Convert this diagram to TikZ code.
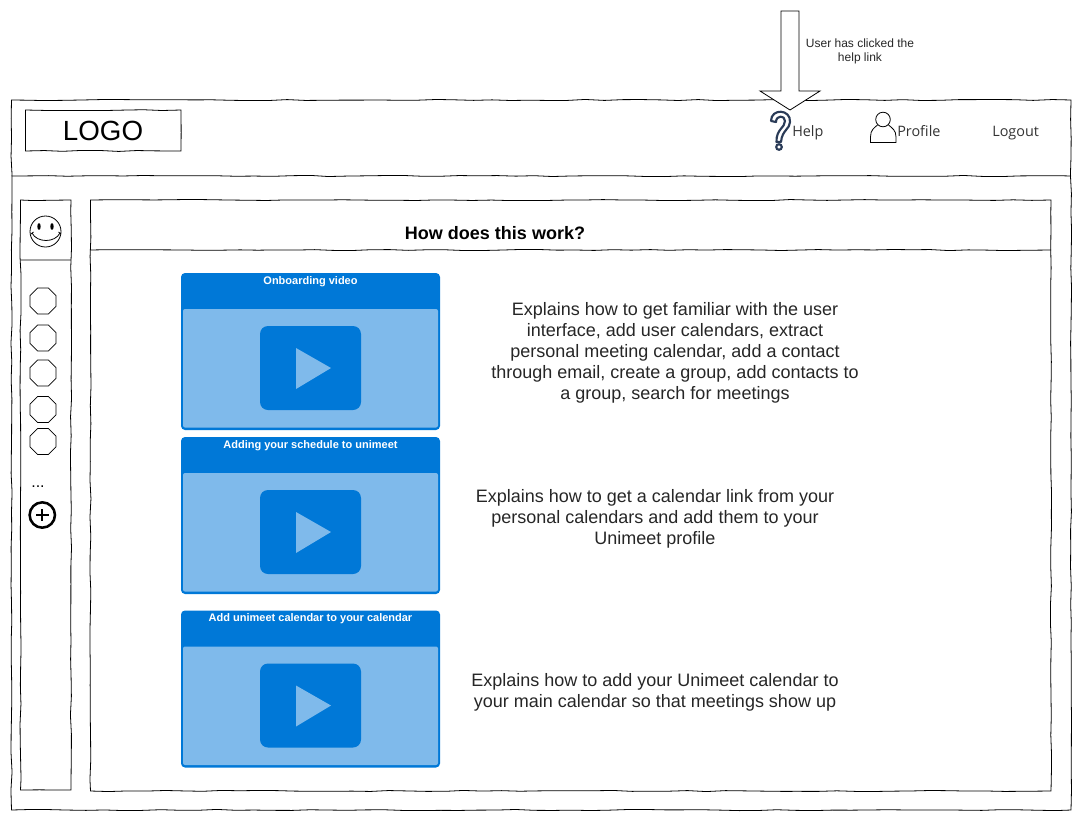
\documentclass[tikz,border=0pt]{standalone}
\usepackage{fontspec}
\setmainfont{Liberation Sans}
\newfontfamily\menufont{Open Sans}
\usetikzlibrary{decorations.pathmorphing,shapes.geometric}
\definecolor{videoblue}{HTML}{0078D7}
\definecolor{videolight}{HTML}{7FBAEB}
\definecolor{helpnavy}{HTML}{2A3B57}
\tikzset{
  sketch/.style = {draw=black, line width=0.6pt,
    decorate, decoration={random steps, segment length=14pt, amplitude=0.45pt}},
  menulabel/.style = {font=\menufont\fontsize{10.8}{12}\selectfont, text=black!80, inner sep=0pt},
  bodytext/.style = {font=\fontsize{13.5}{15.7}\selectfont, text=black!85, align=center, inner sep=0pt},
  videotitle/.style = {font=\bfseries\fontsize{8.25}{11}\selectfont, text=white, inner sep=0pt},
  slotbox/.style = {draw, regular polygon, regular polygon sides=8, minimum size=21.1pt,
    inner sep=0pt, line width=0.6pt},
}
% one video card, #1 = top edge, #2 = title
\newcommand{\videocard}[3]{
  \fill[videoblue, rounded corners=3pt] (181,#1) rectangle (440,#1+157);
  \fill[videolight, rounded corners=1.5pt] (183,#1+36) rectangle (438,#1+154.5);
  \fill[videoblue, rounded corners=6pt] (260,#1+53) rectangle (361,#1+137);
  \fill[videolight] (296,#1+75) -- (331,#1+95) -- (296,#1+116) -- cycle;
  \node[videotitle] (#3) at (310.5,#1+8.5) {#2};
}
\begin{document}
\begin{tikzpicture}[x=0.75pt, y=-0.75pt]
\pgfmathsetseed{42}
\useasboundingbox (0,0) rectangle (1082,829);

% outer frame
\draw[sketch] (11.5,100) rectangle (1071,810);
\draw[sketch] (11.5,176) -- (1071,176);
\draw[sketch] (25.5,110) rectangle (181,151);
\node[font=\fontsize{20.8}{24}\selectfont, inner sep=0pt] (logo) at (103,131) {LOGO};

% side bar
\draw[sketch] (20.5,200) rectangle (71,790);
\draw[sketch] (20.5,260) -- (71,260);
\draw[line width=0.6pt] (45.5,231.5) circle[radius=15.5];
\fill (39,226.5) ellipse[x radius=1.7, y radius=3.4];
\fill (52,226.5) ellipse[x radius=1.7, y radius=3.4];
\draw[line width=0.6pt] (32,233) .. controls (37,243) and (55,243) .. (60,233);
\draw[line width=0.6pt] (31,234) -- (33.5,232) (61,234) -- (58.5,232);
\foreach \slot/\ypos in {a/301,b/338,c/373,d/409.5,e/441.5}
  \node[slotbox] (slot\slot) at (43,\ypos) {};
\node[font=\fontsize{12}{14}\selectfont, inner sep=0pt] (dots) at (38,487) {...};
\node[circle, draw, line width=1.9pt, minimum size=19pt, inner sep=0pt] (addslot) at (42.3,515) {};
\draw[line width=1.7pt] (36,515) -- (48.6,515) (42.3,509) -- (42.3,521);

% main panel
\draw[sketch] (90.5,200) rectangle (1051,791);
\draw[sketch] (90.5,250) -- (1051,250);
\node[font=\bfseries\fontsize{13.5}{14}\selectfont, inner sep=0pt] (title) at (495,233) {How does this work?};

% header links
\draw[helpnavy, line width=1.6pt, line join=round]
  (771,121) .. controls (771,108) and (791,109) .. (790,122)
  .. controls (790,129) and (782,130) .. (781,142) -- (776.5,142)
  .. controls (776,129) and (785,128) .. (785,121)
  .. controls (785,115) and (776,115) .. (776,122) -- cycle;
\draw[helpnavy, line width=1.6pt] (779,147) circle[radius=2.8];
\node[menulabel, anchor=base west] (help) at (792,136) {Help};
\draw[line width=0.6pt] (883,119.5) circle[radius=7.3];
\draw[line width=0.6pt] (877.5,125) .. controls (874,128) and (870.5,130) .. (870.5,137) -- (870.5,142.5)
  -- (896,142.5) -- (896,137) .. controls (896,130) and (892,128) .. (888.5,125);
\node[menulabel, anchor=base west] (profile) at (897,136) {Profile};
\node[menulabel, anchor=base west] (logout) at (992,136) {Logout};

% click marker
\draw[line width=0.6pt, fill=white] (781,11) -- (799,11) -- (799,91) -- (820,91) -- (790,110)
  -- (760,91) -- (781,91) -- cycle;
\node[font=\fontsize{9}{10.5}\selectfont, align=center, text=black!85, inner sep=0pt] (clicknote) at (860,51.5) {User has clicked the\\help link};

% videos
\videocard{273}{Onboarding video}{videoa}
\videocard{437}{Adding your schedule to unimeet}{videob}
\videocard{610.5}{Add unimeet calendar to your calendar}{videoc}

\node[bodytext] (texta) at (675,353) {Explains how to get familiar with the user\\interface, add user calendars, extract\\personal meeting calendar, add a contact\\through email, create a group, add contacts to\\a group, search for meetings};
\node[bodytext] (textb) at (655,519) {Explains how to get a calendar link from your\\personal calendars and add them to your\\Unimeet profile};
\node[bodytext] (textc) at (655,692) {Explains how to add your Unimeet calendar to\\your main calendar so that meetings show up};
\end{tikzpicture}
\end{document}
